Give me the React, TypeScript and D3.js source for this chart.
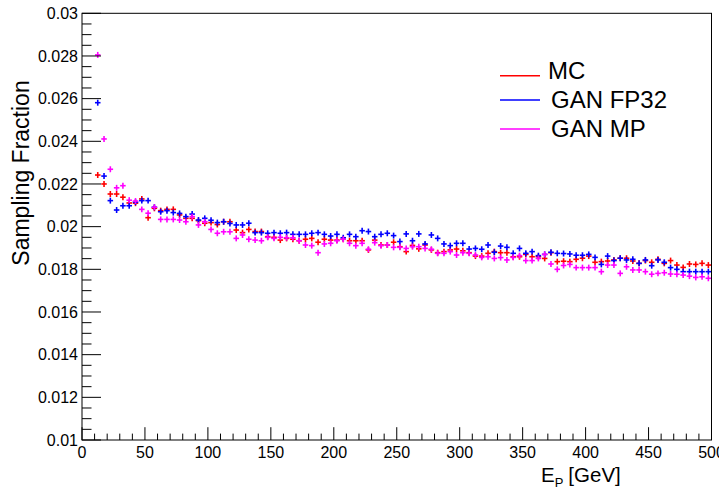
import React from "react";
import * as d3 from "d3";

// Energy bins: 5 GeV wide, starting at 10 GeV
const BIN_START = 10;
const BIN_WIDTH = 5;
const ERR = 0.00014;
const HALF_BAR = 2.2;

const mcValues = [
  0.02242, 0.022, 0.02153, 0.02153, 0.02138, 0.02111, 0.0211, 0.0213, 0.02042, 0.02086,
  0.02075, 0.02081, 0.02081, 0.02055, 0.02039, 0.02039, 0.02028, 0.02016, 0.02019, 0.0201,
  0.02023, 0.02023, 0.01984, 0.01972, 0.01987, 0.01977, 0.01977, 0.01953, 0.0195, 0.01937,
  0.01945, 0.01941, 0.01934, 0.01941, 0.01945, 0.01927, 0.01941, 0.01937, 0.01937, 0.01941,
  0.01934, 0.01934, 0.01934, 0.01891, 0.01937, 0.01914, 0.01914, 0.01927, 0.01906, 0.01883,
  0.01912, 0.01896, 0.01914, 0.01891, 0.01878, 0.01883, 0.01891, 0.01895, 0.01887, 0.01878,
  0.01862, 0.01862, 0.01875, 0.01883, 0.01878, 0.01878, 0.01859, 0.01859, 0.0187, 0.01859,
  0.01859, 0.01851, 0.01878, 0.01836, 0.01838, 0.01836, 0.01847, 0.01852, 0.01862, 0.01833,
  0.01836, 0.01839, 0.01844, 0.01852, 0.01852, 0.01839, 0.01828, 0.01841, 0.01833, 0.01847,
  0.01828, 0.01841, 0.0182, 0.01809, 0.01825, 0.01823, 0.01828, 0.0182,
];

const fp32Values = [
  0.02581, 0.02237, 0.02122, 0.02078, 0.02098, 0.02098, 0.02115, 0.02122, 0.02122, 0.02091,
  0.0207, 0.02075, 0.02066, 0.02062, 0.02047, 0.02059, 0.02031, 0.02039, 0.0203, 0.02019,
  0.02023, 0.02015, 0.02008, 0.02008, 0.02016, 0.01972, 0.01972, 0.01969, 0.01972, 0.01969,
  0.01972, 0.01964, 0.01964, 0.01964, 0.01969, 0.01972, 0.01964, 0.01956, 0.01964, 0.01948,
  0.01964, 0.01953, 0.01981, 0.01977, 0.01953, 0.01964, 0.01969, 0.01958, 0.0193, 0.01966,
  0.01934, 0.01966, 0.01919, 0.01961, 0.01945, 0.01919, 0.01911, 0.01922, 0.01922, 0.01895,
  0.01898, 0.01894, 0.01914, 0.0188, 0.01909, 0.01903, 0.01875, 0.01898, 0.01875, 0.01883,
  0.01864, 0.0187, 0.0188, 0.01875, 0.01874, 0.01872, 0.01866, 0.01866, 0.0187, 0.01856,
  0.01823, 0.01862, 0.01841, 0.01852, 0.01844, 0.01847, 0.01828, 0.01844, 0.01817, 0.01844,
  0.01833, 0.01808, 0.018, 0.01789, 0.01789, 0.01789, 0.01789, 0.01789,
];

const mpValues = [
  0.02805, 0.02411, 0.02269, 0.02182, 0.02192, 0.02124, 0.0212, 0.02081, 0.02063, 0.02091,
  0.02034, 0.02034, 0.02034, 0.02031, 0.02023, 0.02047, 0.02008, 0.02023, 0.01987, 0.01969,
  0.01976, 0.01976, 0.01945, 0.01961, 0.01941, 0.01937, 0.01934, 0.0195, 0.01945, 0.0195,
  0.01948, 0.01948, 0.01934, 0.01914, 0.01911, 0.01878, 0.01919, 0.01922, 0.01934, 0.01941,
  0.01922, 0.01911, 0.01922, 0.01894, 0.01925, 0.01911, 0.01914, 0.01903, 0.01903, 0.01898,
  0.01906, 0.01906, 0.01898, 0.01894, 0.01875, 0.01875, 0.01883, 0.01867, 0.01878, 0.01875,
  0.01867, 0.01856, 0.01859, 0.01851, 0.01855, 0.01844, 0.01856, 0.01864, 0.01841, 0.01841,
  0.01851, 0.0187, 0.01825, 0.018, 0.01818, 0.01823, 0.01808, 0.01808, 0.01808, 0.01808,
  0.01789, 0.0182, 0.0182, 0.01781, 0.01812, 0.01797, 0.01797, 0.01789, 0.01777, 0.01781,
  0.01784, 0.01778, 0.01777, 0.01773, 0.01768, 0.01762, 0.01765, 0.01758,
];

const seriesNames = ["MC", "GAN FP32", "GAN MP"];
const seriesColors = ["#ff0000", "#0000ff", "#ff00ff"];
const seriesValues = [mcValues, fp32Values, mpValues];

const yTickValues = [0.01, 0.012, 0.014, 0.016, 0.018, 0.02, 0.022, 0.024, 0.026, 0.028, 0.03];
const yTickLabels = ["0.01", "0.012", "0.014", "0.016", "0.018", "0.02", "0.022", "0.024", "0.026", "0.028", "0.03"];
const xTickValues = [0, 50, 100, 150, 200, 250, 300, 350, 400, 450, 500];

const W = 719;
const H = 489;
const FONT = "'Liberation Sans', Arial, Helvetica, sans-serif";

export default function App() {
  const x = d3.scaleLinear().domain([0, 500]).range([82, 711.5]);
  const y = d3.scaleLinear().domain([0.01, 0.03]).range([440, 13.3]);
  const [x0, x1] = x.range();
  const [y0, y1] = y.range();

  const xMinor = d3.range(0, 501, 10).filter((v) => v % 50 !== 0);
  const yMinor = d3.range(0, 41).map((i) => 0.01 + i * 0.0005).filter((_, i) => i % 4 !== 0);

  const majorX = 12.8;
  const minorX = 6.4;
  const majorY = 19;
  const minorY = 9.5;

  return (
    <svg
      width={W}
      height={H}
      style={{ position: "absolute", left: 0, top: 0, background: "#fff" }}
      fontFamily={FONT}
    >
      <rect x={0} y={0} width={W} height={H} fill="#fff" />

      {/* data crosses: horizontal bar inside the bin, vertical bar = error */}
      {seriesValues.map((vals, si) => (
        <g key={si} stroke={seriesColors[si]} strokeWidth={1.6}>
          {vals.map((v, i) => {
            const c = BIN_START + i * BIN_WIDTH + BIN_WIDTH / 2;
            return (
              <g key={i}>
                <line x1={x(c - HALF_BAR)} x2={x(c + HALF_BAR)} y1={y(v)} y2={y(v)} />
                <line x1={x(c)} x2={x(c)} y1={y(v - ERR)} y2={y(v + ERR)} />
              </g>
            );
          })}
        </g>
      ))}

      {/* frame */}
      <rect x={x0} y={y1} width={x1 - x0} height={y0 - y1} fill="none" stroke="#000" strokeWidth={1} />

      {/* axis ticks */}
      <g stroke="#000" strokeWidth={1}>
        {xTickValues.map((v) => (
          <line key={"xm" + v} x1={x(v)} x2={x(v)} y1={y0} y2={y0 - majorX} />
        ))}
        {xMinor.map((v) => (
          <line key={"xn" + v} x1={x(v)} x2={x(v)} y1={y0} y2={y0 - minorX} />
        ))}
        {yTickValues.map((v) => (
          <line key={"ym" + v} x1={x0} x2={x0 + majorY} y1={y(v)} y2={y(v)} />
        ))}
        {yMinor.map((v, i) => (
          <line key={"yn" + i} x1={x0} x2={x0 + minorY} y1={y(v)} y2={y(v)} />
        ))}
      </g>

      {/* tick labels */}
      <g fontSize={16} fill="#000">
        {xTickValues.map((v) => (
          <text key={"xl" + v} x={x(v)} y={458} textAnchor="middle">
            {v}
          </text>
        ))}
        {yTickValues.map((v, i) => (
          <text key={"yl" + v} x={78} y={y(v)} dy="0.36em" textAnchor="end">
            {yTickLabels[i]}
          </text>
        ))}
      </g>

      {/* axis titles */}
      <text x={541} y={481.5} fontSize={20.5} fill="#000">
        E
        <tspan fontSize={13} dy={5}>P</tspan>
        <tspan dy={-5} dx={5}>[GeV]</tspan>
      </text>
      <text
        transform="translate(29,173) rotate(-90)"
        textAnchor="middle"
        fontSize={23}
        fill="#000"
      >
        Sampling Fraction
      </text>

      {/* legend */}
      {seriesNames.map((name, i) => {
        const ly = [75.7, 100, 129][i];
        const ty = [78.5, 108.3, 137.3][i];
        const tx = [548, 551, 551][i];
        return (
          <g key={name}>
            <line x1={500} x2={540} y1={ly} y2={ly} stroke={seriesColors[i]} strokeWidth={1.4} />
            <text x={tx} y={ty} fontSize={24} fill="#000">
              {name}
            </text>
          </g>
        );
      })}
    </svg>
  );
}
